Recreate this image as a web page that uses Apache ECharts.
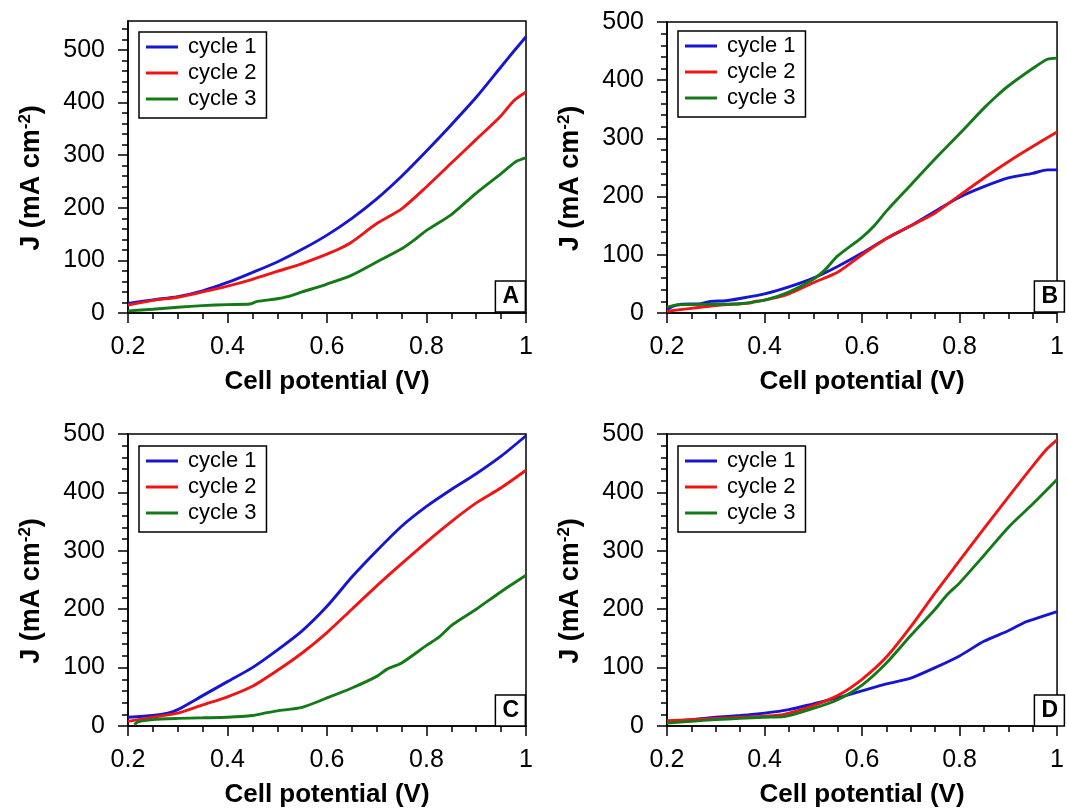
<!DOCTYPE html>
<html><head><meta charset="utf-8">
<script src="https://cdn.jsdelivr.net/npm/echarts@6/dist/echarts.min.js"></script>
<style>html,body{margin:0;padding:0;background:#fff}#c{width:1067px;height:809px}</style>
</head><body><div id="c"></div>
<script>
// ---------- data ----------
const seriesNames = ['cycle 1', 'cycle 2', 'cycle 3'];
const seriesColors = ['#1515d2', '#f01414', '#137a17'];
const panelLetters = ['A', 'B', 'C', 'D'];
const xMin = 0.2, xMax = 1;
const yMaxes = [555, 500, 500, 500];
const yMajorTicks = [0, 100, 200, 300, 400, 500];
const yMinorTicksA = [20,40,60,80,120,140,160,180,220,240,260,280,320,340,360,380,420,440,460,480,520,540];
const yMinorTicks = [20,40,60,80,120,140,160,180,220,240,260,280,320,340,360,380,420,440,460,480];

const A_c1 = [[0.2,18],[0.25,25],[0.3,31],[0.35,42],[0.4,58],[0.45,77],[0.5,97],[0.55,121],[0.6,148],[0.65,180],[0.7,217],[0.75,260],[0.8,308],[0.85,358],[0.9,410],[0.95,468],[0.975,497],[1.0,525]];
const A_c2 = [[0.2,15],[0.25,24],[0.3,30],[0.35,40],[0.4,51],[0.45,64],[0.5,79],[0.55,94],[0.6,112],[0.625,122],[0.65,135],[0.7,170],[0.75,198],[0.8,240],[0.85,285],[0.9,330],[0.95,375],[0.975,403],[1.0,420]];
const A_c3 = [[0.2,4],[0.25,7],[0.3,11],[0.35,14],[0.4,16],[0.445,17],[0.46,22],[0.5,27],[0.52,31],[0.55,40],[0.6,55],[0.65,72],[0.7,97],[0.75,122],[0.78,142],[0.8,157],[0.85,187],[0.9,228],[0.95,265],[0.98,288],[1.0,295]];

const B_c1 = [[0.2,5],[0.21,11],[0.23,15],[0.27,16],[0.29,20],[0.32,21],[0.35,25],[0.4,33],[0.45,45],[0.5,60],[0.55,80],[0.6,103],[0.65,128],[0.7,150],[0.75,175],[0.8,199],[0.85,217],[0.9,232],[0.95,240],[0.98,246],[1.0,246]];
const B_c2 = [[0.2,3],[0.25,8],[0.3,13],[0.35,16],[0.37,17],[0.38,20],[0.4,22],[0.45,33],[0.5,52],[0.55,70],[0.6,100],[0.65,128],[0.7,150],[0.75,172],[0.8,202],[0.85,232],[0.9,260],[0.95,286],[1.0,311]];
const B_c3 = [[0.2,10],[0.22,14],[0.3,15],[0.35,16],[0.4,22],[0.45,36],[0.5,58],[0.525,75],[0.55,98],[0.6,130],[0.625,150],[0.65,175],[0.7,220],[0.75,265],[0.8,308],[0.85,352],[0.875,372],[0.9,390],[0.95,420],[0.98,436],[1.0,438]];

const C_c1 = [[0.2,15],[0.25,18],[0.28,22],[0.3,28],[0.35,52],[0.4,76],[0.45,100],[0.5,130],[0.55,163],[0.6,205],[0.65,255],[0.7,300],[0.75,342],[0.8,376],[0.85,405],[0.9,432],[0.95,462],[1.0,497]];
const C_c2 = [[0.2,8],[0.25,15],[0.3,22],[0.35,36],[0.4,50],[0.45,68],[0.5,95],[0.55,125],[0.6,160],[0.65,200],[0.7,240],[0.75,278],[0.8,315],[0.85,350],[0.9,382],[0.95,408],[1.0,438]];
const C_c3 = [[0.213,2],[0.22,7],[0.25,11],[0.3,13],[0.35,14],[0.4,15],[0.45,18],[0.48,23],[0.5,26],[0.55,32],[0.6,48],[0.65,65],[0.7,85],[0.72,97],[0.75,108],[0.8,138],[0.825,152],[0.85,172],[0.9,200],[0.95,230],[1.0,258]];

const D_c1 = [[0.2,7],[0.25,11],[0.3,15],[0.35,18],[0.4,22],[0.45,28],[0.5,38],[0.55,48],[0.6,60],[0.65,72],[0.7,82],[0.75,100],[0.8,120],[0.85,145],[0.9,163],[0.935,178],[0.95,182],[1.0,196]];
const D_c2 = [[0.2,9],[0.25,11],[0.3,13],[0.35,15],[0.4,17],[0.44,20],[0.5,35],[0.55,52],[0.6,80],[0.65,118],[0.7,170],[0.75,228],[0.8,283],[0.85,338],[0.9,392],[0.95,445],[0.98,475],[1.0,490]];
const D_c3 = [[0.2,5],[0.25,8],[0.3,11],[0.35,13],[0.4,15],[0.44,16],[0.5,30],[0.55,45],[0.6,70],[0.65,108],[0.7,155],[0.75,200],[0.775,225],[0.8,245],[0.85,292],[0.9,340],[0.95,380],[1.0,422]];

const panelData = [[A_c1, A_c2, A_c3], [B_c1, B_c2, B_c3], [C_c1, C_c2, C_c3], [D_c1, D_c2, D_c3]];

// ---------- layout / style ----------
const FONT = 'Liberation Sans, Arial, Helvetica, sans-serif';
const grids = [
  {left: 128, top: 21, width: 398, height: 292},
  {left: 667, top: 22, width: 398, height: 291},
  {left: 128, top: 434, width: 398, height: 293},
  {left: 667, top: 434, width: 398, height: 293}
];
const legendPos = [
  {left: 139, top: 32}, {left: 678, top: 31}, {left: 139, top: 446}, {left: 678, top: 446}
];
const AX = {color: '#000', width: 1.5};

const option = {
  backgroundColor: '#fff',
  animation: false,
  grid: grids.map(g => Object.assign({show: true, borderColor: '#000', borderWidth: 1.5, backgroundColor: 'transparent'}, g)),
  title: panelLetters.map((L, i) => ({
    text: L,
    right: 1067 - (grids[i].left + grids[i].width),
    bottom: 809 - (grids[i].top + grids[i].height),
    padding: [5, 7, 4, 7],
    borderColor: '#000', borderWidth: 1.5, backgroundColor: '#fff',
    textStyle: {fontFamily: FONT, fontWeight: 'bold', fontSize: 23, lineHeight: 22, color: '#000'}
  })),
  legend: legendPos.map(p => ({
    data: seriesNames,
    orient: 'vertical',
    left: p.left, top: p.top,
    icon: 'rect', itemWidth: 32, itemHeight: 3, itemGap: 4,
    padding: [4, 10, 8, 7],
    borderColor: '#000', borderWidth: 1.5, backgroundColor: '#fff',
    selectedMode: false,
    textStyle: {fontFamily: FONT, fontSize: 22, lineHeight: 22, color: '#000', padding: [0, 0, 0, 5]}
  })),
  xAxis: grids.map((g, i) => ({
    type: 'value', gridIndex: i, min: xMin, max: xMax, interval: 0.2,
    name: 'Cell potential (V)', nameLocation: 'middle', nameGap: 56,
    nameTextStyle: {fontFamily: FONT, fontWeight: 'bold', fontSize: 26, color: '#000'},
    axisLine: {show: true, onZero: false, lineStyle: AX},
    axisTick: {show: true, length: 10, lineStyle: AX},
    minorTick: {show: true, splitNumber: 4, length: 6, lineStyle: AX},
    splitLine: {show: false},
    axisLabel: {fontFamily: FONT, fontSize: 25, color: '#000', margin: 22,
      formatter: v => (Math.abs(v - 1) < 1e-9 ? '1' : v.toFixed(1))}
  })),
  yAxis: [].concat(
    grids.map((g, i) => ({
      type: 'value', gridIndex: i, position: 'left', min: 0, max: yMaxes[i],
      name: 'J (mA cm{sup|-2})', nameLocation: 'middle', nameGap: 81, nameRotate: 90,
      nameTextStyle: {fontFamily: FONT, fontWeight: 'bold', fontSize: 27, color: '#000', lineHeight: 30,
        padding: [0, 22, 0, 0],
        rich: {sup: {fontFamily: FONT, fontWeight: 'bold', fontSize: 17, verticalAlign: 'top', lineHeight: 30, padding: [0, 0, 12, 0]}}},
      axisLine: {show: true, lineStyle: AX},
      axisTick: {show: true, length: 10, lineStyle: AX, customValues: yMajorTicks},
      splitLine: {show: false},
      axisLabel: {fontFamily: FONT, fontSize: 25, color: '#000', margin: 23, customValues: yMajorTicks}
    })),
    grids.map((g, i) => ({
      type: 'value', gridIndex: i, position: 'left', min: 0, max: yMaxes[i],
      axisLine: {show: false},
      axisTick: {show: true, length: 6, lineStyle: AX, customValues: i === 0 ? yMinorTicksA : yMinorTicks},
      splitLine: {show: false},
      axisLabel: {show: false}
    }))
  ),
  series: []
};

panelData.forEach((arr, i) => {
  arr.forEach((d, k) => {
    option.series.push({
      name: seriesNames[k], type: 'line', xAxisIndex: i, yAxisIndex: i,
      data: d, showSymbol: false, symbol: 'none', smooth: 0.25,
      lineStyle: {color: seriesColors[k], width: 2.9},
      itemStyle: {color: seriesColors[k]},
      clip: true
    });
  });
});

const chart = echarts.init(document.getElementById('c'), null, {renderer: 'canvas'});
chart.setOption(option);
</script>
</body></html>
